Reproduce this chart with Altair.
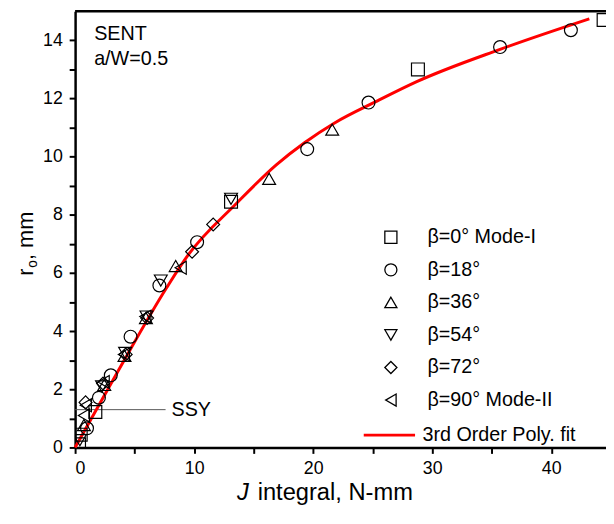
import altair as alt
import pandas as pd

# ---------------- data ----------------
labels = ["β=0° Mode-I", "β=18°", "β=36°", "β=54°", "β=72°", "β=90° Mode-II"]
shapes = ["square", "circle", "triangle-up", "triangle-down", "diamond", "triangle-left"]

j_b0 = [0.33, 0.47, 1.7, 13.1, 28.8, 44.4]
r_b0 = [0.11, 0.44, 1.22, 8.45, 13.0, 14.7]

j_b18 = [1.0, 2.0, 3.0, 4.66, 7.08, 10.25, 19.5, 24.65, 35.7, 41.65]
r_b18 = [0.66, 1.71, 2.48, 3.81, 5.57, 7.06, 10.26, 11.86, 13.77, 14.35]

j_b36 = [0.74, 2.45, 4.15, 5.95, 8.45, 16.3, 21.6]
r_b36 = [0.77, 2.15, 3.15, 4.45, 6.24, 9.24, 10.93]

j_b54 = [0.4, 2.26, 4.2, 6.0, 7.2, 13.1]
r_b54 = [0.25, 2.1, 3.25, 4.5, 5.74, 8.55]

j_b72 = [0.88, 2.35, 4.25, 6.05, 9.83, 11.6]
r_b72 = [1.55, 2.2, 3.2, 4.45, 6.73, 7.67]

j_b90 = [0.74, 0.9, 2.4, 4.1, 5.9, 8.87]
r_b90 = [1.1, 1.45, 2.25, 3.2, 4.5, 6.18]

fit_j = [0, 3.6, 7.7, 9.5, 13.55, 16.9, 19.3, 21.8, 25.4, 28.7, 35.7, 43.2]
fit_r = [0, 2.62, 5.5, 6.62, 8.39, 9.72, 10.49, 11.16, 11.92, 12.58, 13.69, 14.74]
fit_name = "3rd Order Poly. fit"

ssy_level = 1.3
ssy_end = 7.6

x_max = 44.6
y_max = 15
x_ticks = [0, 5, 10, 15, 20, 25, 30, 35, 40]
y_ticks = list(range(0, 15))

# ---------------- tables ----------------
series_j = [j_b0, j_b18, j_b36, j_b54, j_b72, j_b90]
series_r = [r_b0, r_b18, r_b36, r_b54, r_b72, r_b90]
rows = []
for lab, js, rs in zip(labels, series_j, series_r):
    for j, r in zip(js, rs):
        rows.append({"J": j, "r": r, "series": lab})
pts = pd.DataFrame(rows)
fit = pd.DataFrame({"J": fit_j, "r": fit_r, "name": fit_name})

FONT = "Liberation Sans"

xenc = alt.X("J:Q", scale=alt.Scale(domain=[0, x_max], nice=False, zero=True),
             axis=alt.Axis(values=x_ticks, title=None,
                           labelExpr="datum.value % 10 == 0 ? datum.label : ''"))
yenc = alt.Y("r:Q", scale=alt.Scale(domain=[0, y_max], nice=False),
             axis=alt.Axis(values=y_ticks, title=None,
                           labelExpr="datum.value % 2 == 0 ? datum.label : ''"))

points = alt.Chart(pts).mark_point(filled=False, color="black", strokeWidth=1.2,
                                   size=170, opacity=1, clip=True).encode(
    x=xenc, y=yenc,
    shape=alt.Shape("series:N",
                    scale=alt.Scale(domain=labels, range=shapes),
                    legend=alt.Legend(orient="none", legendX=310, legendY=219,
                                      title=None, padding=0, rowPadding=13,
                                      labelFontSize=20, labelFont=FONT,
                                      labelColor="black", labelOffset=27,
                                      symbolSize=150, symbolStrokeColor="black",
                                      symbolFillColor="transparent",
                                      symbolStrokeWidth=1.3)),
)

line = alt.Chart(fit).mark_line(strokeWidth=3, interpolate="monotone").encode(
    x=xenc, y=yenc,
    color=alt.Color("name:N", scale=alt.Scale(domain=[fit_name], range=["#ff0000"]),
                    legend=alt.Legend(orient="none", legendX=291, legendY=402,
                                      title=None, padding=0, symbolType="stroke",
                                      symbolSize=2704, symbolStrokeWidth=3,
                                      labelFontSize=20, labelFont=FONT,
                                      labelColor="black", labelOffset=6)),
)

top_border = alt.Chart(pd.DataFrame({"r": [y_max]})).mark_rule(
    color="black", strokeWidth=2.5).encode(y=yenc)

ssy_line = alt.Chart(pd.DataFrame({"J": [0], "J2": [ssy_end], "r": [ssy_level]})).mark_rule(
    color="#555555", strokeWidth=1).encode(x=xenc, x2="J2:Q", y=yenc)

ssy_text = alt.Chart(pd.DataFrame({"J": [ssy_end + 0.5], "r": [ssy_level], "t": ["SSY"]})).mark_text(
    align="left", baseline="middle", fontSize=20, font=FONT, color="black").encode(
    x=xenc, y=yenc, text="t:N")

info = alt.Chart(pd.DataFrame({"J": [1.6, 1.6], "r": [14.2, 13.35],
                               "t": ["SENT", "a/W=0.5"]})).mark_text(
    align="left", baseline="middle", fontSize=20, font=FONT, color="black").encode(
    x=xenc, y=yenc, text="t:N")

# axis titles
xt_j = alt.Chart(pd.DataFrame({"t": ["J"]})).mark_text(
    align="left", baseline="middle", fontSize=24, font=FONT, fontStyle="italic",
    color="black").encode(x=alt.value(164), y=alt.value(488), text="t:N")
xt_rest = alt.Chart(pd.DataFrame({"t": ["integral, N-mm"]})).mark_text(
    align="left", baseline="middle", fontSize=24, font=FONT, color="black").encode(
    x=alt.value(185), y=alt.value(488), text="t:N")

yt_r = alt.Chart(pd.DataFrame({"t": ["r"]})).mark_text(
    align="left", baseline="middle", fontSize=22, font=FONT, angle=270,
    color="black").encode(x=alt.value(-50), y=alt.value(268), text="t:N")
yt_o = alt.Chart(pd.DataFrame({"t": ["o"]})).mark_text(
    align="left", baseline="middle", fontSize=14, font=FONT, angle=270,
    color="black").encode(x=alt.value(-43), y=alt.value(260), text="t:N")
yt_rest = alt.Chart(pd.DataFrame({"t": [", mm"]})).mark_text(
    align="left", baseline="middle", fontSize=22, font=FONT, angle=270,
    color="black").encode(x=alt.value(-50), y=alt.value(252), text="t:N")

chart = alt.layer(
    ssy_line, line, points, top_border, ssy_text, info,
    xt_j, xt_rest, yt_r, yt_o, yt_rest
).properties(
    width=538, height=442,
    autosize=alt.AutoSizeParams(type="none"),
    padding={"left": 68, "top": 0, "right": 0, "bottom": 56},
).configure_view(stroke=None).configure_axis(
    grid=False, domainColor="black", domainWidth=2.5, tickColor="black",
    tickWidth=2, tickSize=6, labelFontSize=18, labelFont=FONT,
    labelColor="black", labelPadding=7,
).configure_axisX(labelPadding=6)

chart.save("out.html", embed_options={"renderer": "svg", "actions": False})
